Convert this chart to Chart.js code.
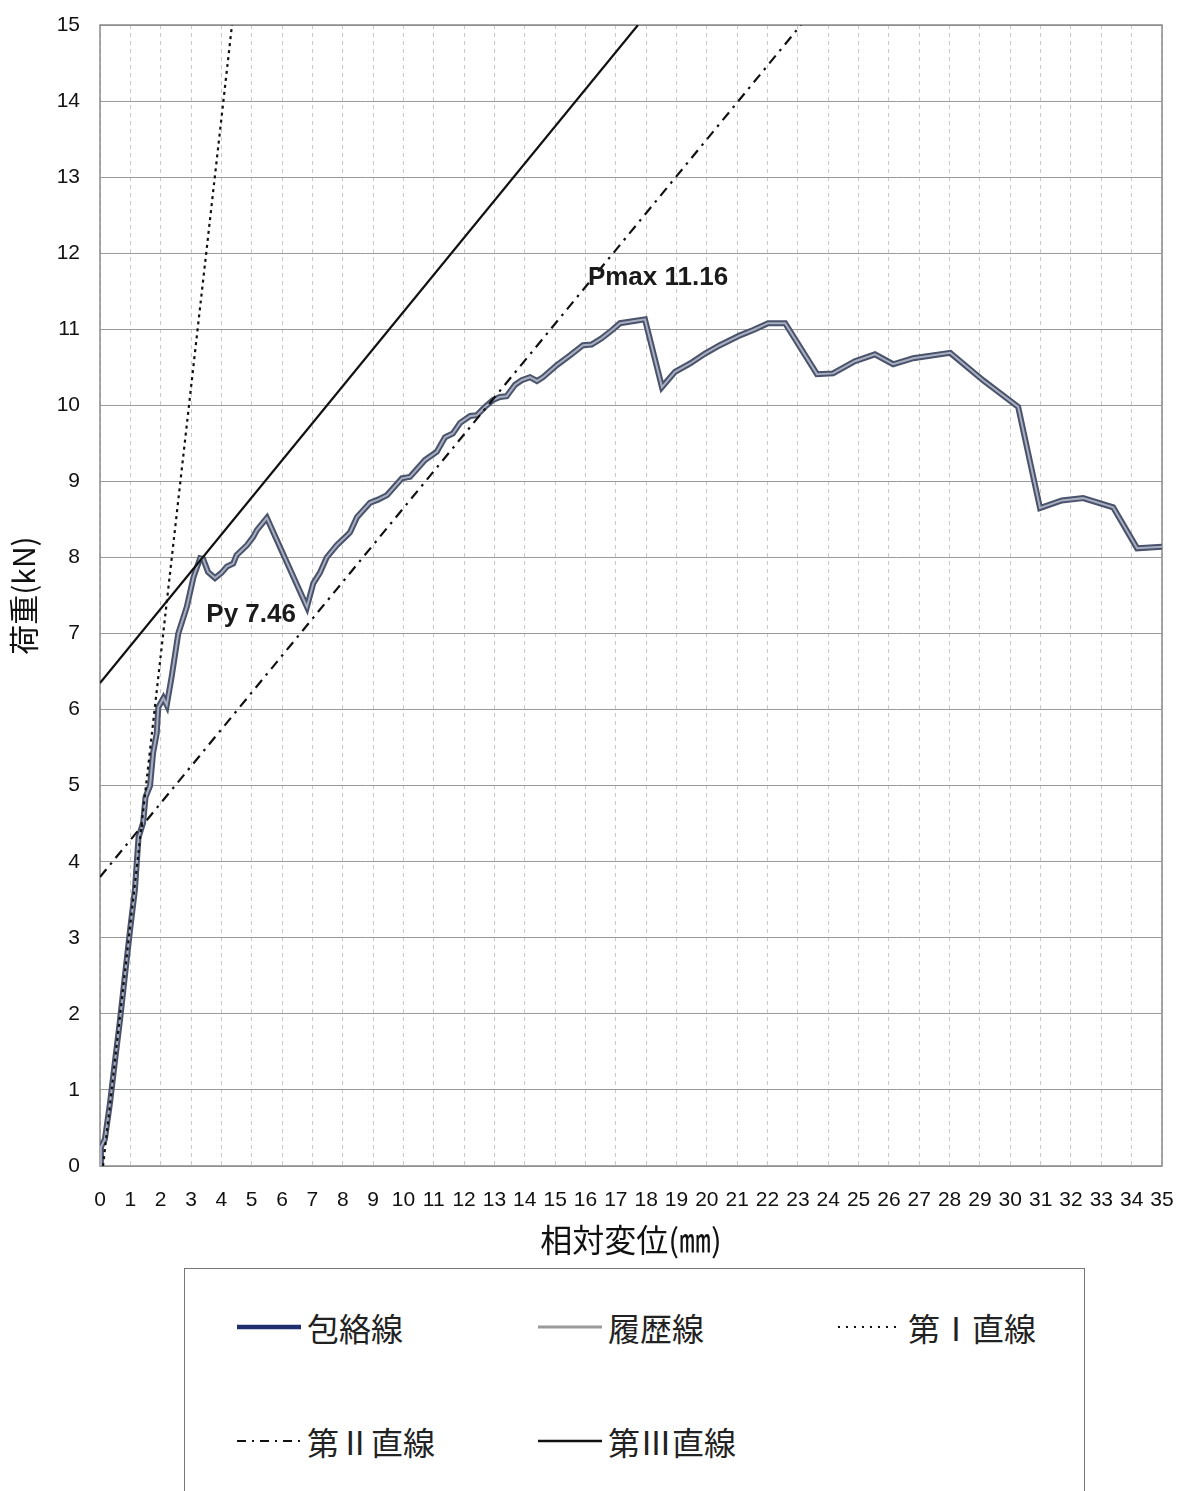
<!DOCTYPE html>
<html>
<head>
<meta charset="utf-8">
<script src="https://cdn.jsdelivr.net/npm/chart.js@4.4.1/dist/chart.umd.min.js"></script>
<style>
  body { margin: 0; background: #fff; width: 1180px; height: 1491px; position: relative; overflow: hidden; }
  #grafico { position: absolute; left: 0; top: 0; }
  .legenda { position: absolute; left: 184px; top: 1268px; width: 901px; height: 240px; border: 1px solid #777; box-sizing: border-box; }
  .item { position: absolute; height: 40px; display: flex; align-items: center; font-family: "Noto Sans CJK JP", sans-serif; font-size: 32px; color: #222; }
  .item canvas { margin-right: 6px; }
</style>
</head>
<body>
<canvas id="grafico" width="1180" height="1265"></canvas>
<div class="legenda" id="legenda"></div>
<script>
// eixos
const xTicks = [0,1,2,3,4,5,6,7,8,9,10,11,12,13,14,15,16,17,18,19,20,21,22,23,24,25,26,27,28,29,30,31,32,33,34,35];
const yTicks = [0,1,2,3,4,5,6,7,8,9,10,11,12,13,14,15];

// 包絡線
const envX = [0, 0.03, 0.16, 0.33, 0.5, 0.66, 0.82, 0.99, 1.15, 1.27, 1.42, 1.5, 1.65, 1.75, 1.87, 1.92, 2.09, 2.2, 2.36, 2.58,
  2.86, 3.08, 3.3, 3.4, 3.56, 3.79, 4.01, 4.18, 4.39, 4.5, 4.84, 5.05, 5.17, 5.5, 6.82, 7.03, 7.25, 7.47, 7.8, 8.14,
  8.24, 8.47, 8.9, 9.16, 9.46, 9.95, 10.22, 10.71, 11.1, 11.37, 11.63, 11.87, 12.2, 12.42, 12.69, 12.95, 13.18, 13.4, 13.68, 13.9,
  14.17, 14.4, 14.6, 15.06, 15.5, 15.92, 16.2, 16.53, 16.88, 17.14, 17.96, 18.52, 18.95, 19.45, 19.94, 20.43, 21.09, 21.53, 22.02, 22.58,
  23.63, 24.16, 24.88, 25.54, 26.14, 26.8, 28.02, 29.1, 30.26, 30.98, 31.7, 32.4, 33.39, 34.18, 35.0];
const envY = [0, 0.25, 0.35, 0.83, 1.4, 1.92, 2.5, 3.1, 3.63, 4.32, 4.51, 4.85, 5.0, 5.43, 5.69, 6.03, 6.15, 6.06, 6.43, 7.0,
  7.35, 7.74, 7.99, 7.98, 7.81, 7.73, 7.8, 7.88, 7.92, 8.03, 8.16, 8.27, 8.36, 8.52, 7.35, 7.66, 7.8, 8.0, 8.16, 8.29,
  8.33, 8.53, 8.72, 8.76, 8.82, 9.04, 9.06, 9.28, 9.39, 9.58, 9.63, 9.77, 9.86, 9.87, 9.98, 10.07, 10.11, 10.12, 10.27, 10.33,
  10.37, 10.32, 10.37, 10.53, 10.66, 10.79, 10.8, 10.88, 10.99, 11.08, 11.13, 10.24, 10.44, 10.55, 10.68, 10.79, 10.92, 10.99, 11.08, 11.08,
  10.41, 10.42, 10.58, 10.67, 10.54, 10.62, 10.69, 10.33, 9.98, 8.65, 8.75, 8.78, 8.66, 8.12, 8.14];

// 第I / 第II / 第III 直線
const reta1X = [0.1, 4.35];
const reta1Y = [0, 15];
const reta2X = [0, 23.1];
const reta2Y = [3.8, 15];
const reta3X = [0, 17.73];
const reta3Y = [6.35, 15];

// anotações
const notaTexto = ["Py 7.46", "Pmax 11.16"];
const notaX = [4.98, 18.39];
const notaY = [7.24, 11.67];

function pontos(xs, ys) {
    return xs.map((x, i) => ({ x: x, y: ys[i] }));
}

const pluginMoldura = {
    id: 'moldura',
    beforeDatasetsDraw(chart) {
        const { ctx, chartArea } = chart;
        ctx.save();
        ctx.strokeStyle = '#8a8a8a';
        ctx.lineWidth = 1.5;
        ctx.strokeRect(chartArea.left, chartArea.top, chartArea.right - chartArea.left, chartArea.bottom - chartArea.top);
        ctx.restore();
    },
    afterDatasetsDraw(chart) {
        const { ctx } = chart;
        const sx = chart.scales.x, sy = chart.scales.y;
        ctx.save();
        ctx.font = 'bold 26px "Liberation Sans", Arial, sans-serif';
        ctx.fillStyle = '#1a1a1a';
        ctx.textAlign = 'center';
        ctx.textBaseline = 'middle';
        notaTexto.forEach((t, i) => {
            ctx.fillText(t, sx.getPixelForValue(notaX[i]), sy.getPixelForValue(notaY[i]));
        });
        ctx.restore();
    }
};

const ctx = document.getElementById('grafico').getContext('2d');
const grafico = new Chart(ctx, {
    type: 'scatter',
    data: {
        datasets: [
            { label: '包絡線', data: pontos(envX, envY), showLine: true, borderColor: '#4a536c', borderWidth: 6, pointRadius: 0, order: 2 },
            { label: '履歴線', data: pontos(envX, envY), showLine: true, borderColor: '#a9afc0', borderWidth: 2, pointRadius: 0, order: 1 },
            { label: '第I直線', data: pontos(reta1X, reta1Y), showLine: true, borderColor: '#111', borderWidth: 2.2, borderDash: [3, 4], pointRadius: 0 },
            { label: '第II直線', data: pontos(reta2X, reta2Y), showLine: true, borderColor: '#111', borderWidth: 2.2, borderDash: [10, 6, 2.5, 6], pointRadius: 0 },
            { label: '第III直線', data: pontos(reta3X, reta3Y), showLine: true, borderColor: '#111', borderWidth: 2.2, pointRadius: 0 }
        ]
    },
    options: {
        responsive: false,
        animation: false,
        devicePixelRatio: 1,
        layout: { padding: { left: 0, right: 18, top: 25, bottom: 0 } },
        plugins: { legend: { display: false }, tooltip: { enabled: false } },
        scales: {
            x: {
                type: 'linear', min: 0, max: 35,
                afterBuildTicks: s => { s.ticks = xTicks.map(v => ({ value: v })); },
                afterFit: s => { s.height = 99; s.paddingLeft = 0; s.paddingRight = 0; },
                grid: { color: '#c9c9c9', lineWidth: 1, drawTicks: false },
                border: { display: false, dash: [4, 4] },
                ticks: { padding: 22, autoSkip: false, maxRotation: 0, color: '#111', font: { family: '"Liberation Sans", Arial, sans-serif', size: 21 } },
                title: { display: true, text: '相対変位(㎜)', color: '#111', padding: { top: 0, bottom: 6 }, font: { family: '"Noto Sans CJK JP", sans-serif', size: 32 } }
            },
            y: {
                type: 'linear', min: 0, max: 15,
                afterBuildTicks: s => { s.ticks = yTicks.map(v => ({ value: v })); },
                afterFit: s => { s.width = 100; s.paddingTop = 0; s.paddingBottom = 0; },
                grid: { color: '#9a9a9a', lineWidth: 1, drawTicks: false },
                border: { display: false },
                ticks: { padding: 20, color: '#111', font: { family: '"Liberation Sans", Arial, sans-serif', size: 21 } },
                title: { display: true, text: '荷重(kN)', color: '#111', padding: { top: 6, bottom: 0 }, font: { family: '"Noto Sans CJK JP", sans-serif', size: 30 } }
            }
        }
    },
    plugins: [pluginMoldura]
});

// legenda
const itensLegenda = [
    { texto: '包絡線', x: 52, y: 38, cor: '#1f2f6e', largura: 4.5, dash: [] },
    { texto: '履歴線', x: 353, y: 38, cor: '#9a9a9a', largura: 3, dash: [] },
    { texto: '第Ⅰ直線', x: 653, y: 38, cor: '#111', largura: 2, dash: [2, 6] },
    { texto: '第Ⅱ直線', x: 52, y: 152, cor: '#111', largura: 2, dash: [9, 6, 2, 6] },
    { texto: '第Ⅲ直線', x: 353, y: 152, cor: '#111', largura: 2.5, dash: [] }
];
const legenda = document.getElementById('legenda');
itensLegenda.forEach(item => {
    const div = document.createElement('div');
    div.className = 'item';
    div.style.left = item.x + 'px';
    div.style.top = item.y + 'px';
    const c = document.createElement('canvas');
    c.width = 64; c.height = 10;
    const g = c.getContext('2d');
    g.strokeStyle = item.cor;
    g.lineWidth = item.largura;
    g.setLineDash(item.dash);
    g.beginPath(); g.moveTo(0, 5); g.lineTo(64, 5); g.stroke();
    div.appendChild(c);
    const span = document.createElement('span');
    span.textContent = item.texto;
    div.appendChild(span);
    legenda.appendChild(div);
});
</script>
</body>
</html>
